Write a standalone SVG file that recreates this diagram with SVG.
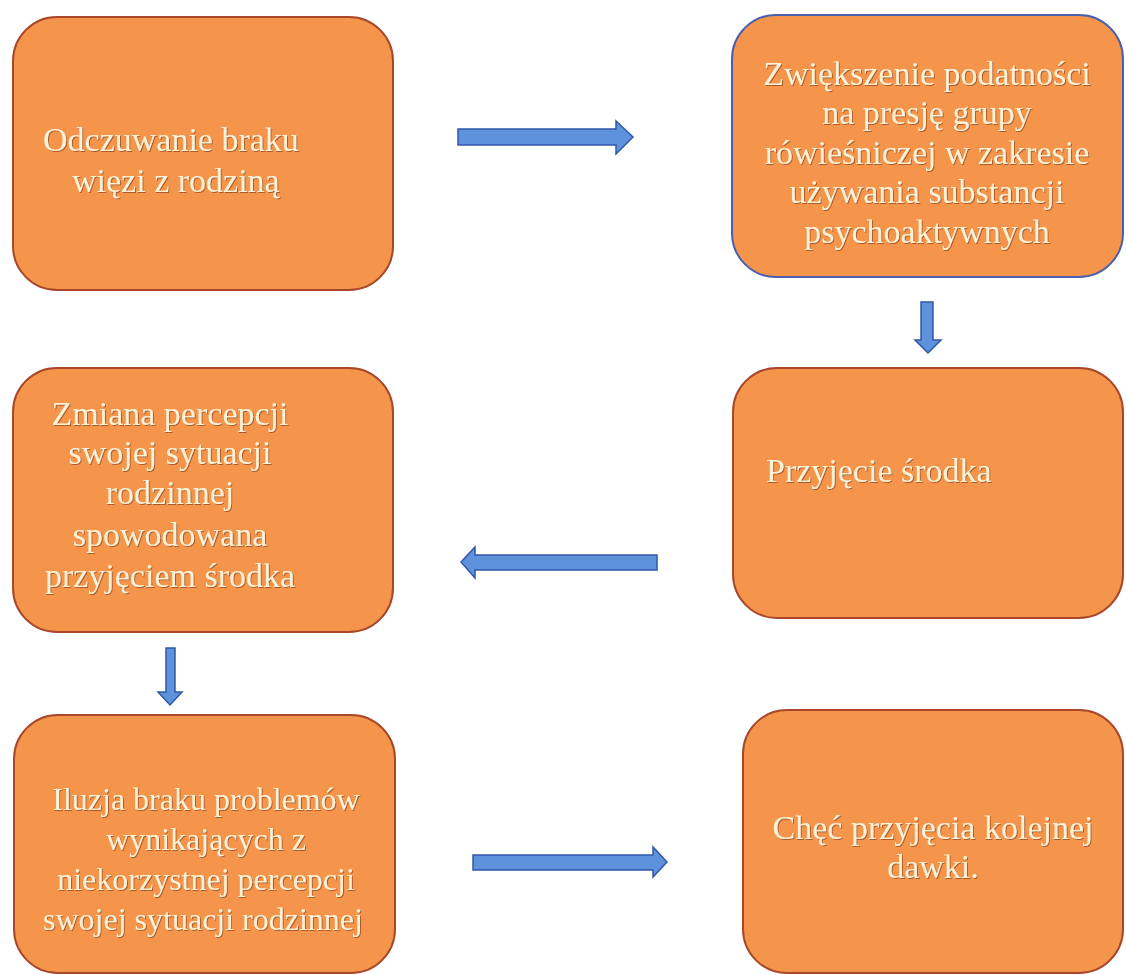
<svg xmlns="http://www.w3.org/2000/svg" width="1126" height="974" viewBox="0 0 1126 974">
<defs>
<style>
.box{fill:#f5954c;stroke:#a9472a;stroke-width:2}
.box2{fill:#f5954c;stroke:#4a5fae;stroke-width:2}
.t{font-family:"Liberation Serif","Times New Roman",serif;font-size:34px;fill:#fdf2d6;filter:url(#sh)}
.s{font-size:32px}
.c{text-anchor:middle}
.arr{fill:#5e93dc;stroke:#2f58a8;stroke-width:1.5;stroke-linejoin:miter}
</style>
<filter id="sh" x="-5%" y="-20%" width="110%" height="140%">
<feDropShadow dx="1" dy="1" stdDeviation="0.6" flood-color="#7a3410" flood-opacity="0.6"/>
</filter>
</defs>
<rect width="1126" height="974" fill="#ffffff"/>
<g id="connectors">
<polygon class="arr" points="458,129 616,129 616,121 633,137 616,154 616,145 458,145"/>
<polygon class="arr" points="921,302 933,302 933,340 941,340 928,353 915,340 921,340"/>
<polygon class="arr" points="657,555 475,555 475,547 461,562 475,578 475,570 657,570"/>
<polygon class="arr" points="166,648 175,648 175,692 182,692 170,705 158,692 166,692"/>
<polygon class="arr" points="473,855 653,855 653,847 667,862 653,877 653,870 473,870"/>
</g>
<g id="n1">
<rect class="box" x="13" y="17" width="380" height="273" rx="44"/>
<text class="t" x="43" y="151">Odczuwanie braku</text>
<text class="t" x="72" y="192">więzi z rodziną</text>
</g>
<g id="n2">
<rect class="box2" x="732" y="15" width="391" height="262" rx="44"/>
<text class="t c" x="927" y="85">Zwiększenie podatności</text>
<text class="t c" x="927" y="124">na presję grupy</text>
<text class="t c" x="927" y="164">rówieśniczej w zakresie</text>
<text class="t c" x="927" y="203">używania substancji</text>
<text class="t c" x="927" y="243">psychoaktywnych</text>
</g>
<g id="n3">
<rect class="box" x="13" y="368" width="380" height="264" rx="44"/>
<text class="t c" x="170" y="425">Zmiana percepcji</text>
<text class="t c" x="170" y="464">swojej sytuacji</text>
<text class="t c" x="170" y="504">rodzinnej</text>
<text class="t c" x="170" y="546">spowodowana</text>
<text class="t c" x="170" y="587">przyjęciem środka</text>
</g>
<g id="n4">
<rect class="box" x="733" y="368" width="390" height="250" rx="44"/>
<text class="t" x="766" y="482">Przyjęcie środka</text>
</g>
<g id="n5">
<rect class="box" x="14" y="715" width="381" height="258" rx="44"/>
<text class="t c s" x="206" y="810">Iluzja braku problemów</text>
<text class="t c s" x="206" y="850">wynikających z</text>
<text class="t c s" x="206" y="890">niekorzystnej percepcji</text>
<text class="t c s" x="203" y="930">swojej sytuacji rodzinnej</text>
</g>
<g id="n6">
<rect class="box" x="743" y="710" width="380" height="263" rx="44"/>
<text class="t c" x="933" y="839">Chęć przyjęcia kolejnej</text>
<text class="t c" x="933" y="878">dawki.</text>
</g>
</svg>
